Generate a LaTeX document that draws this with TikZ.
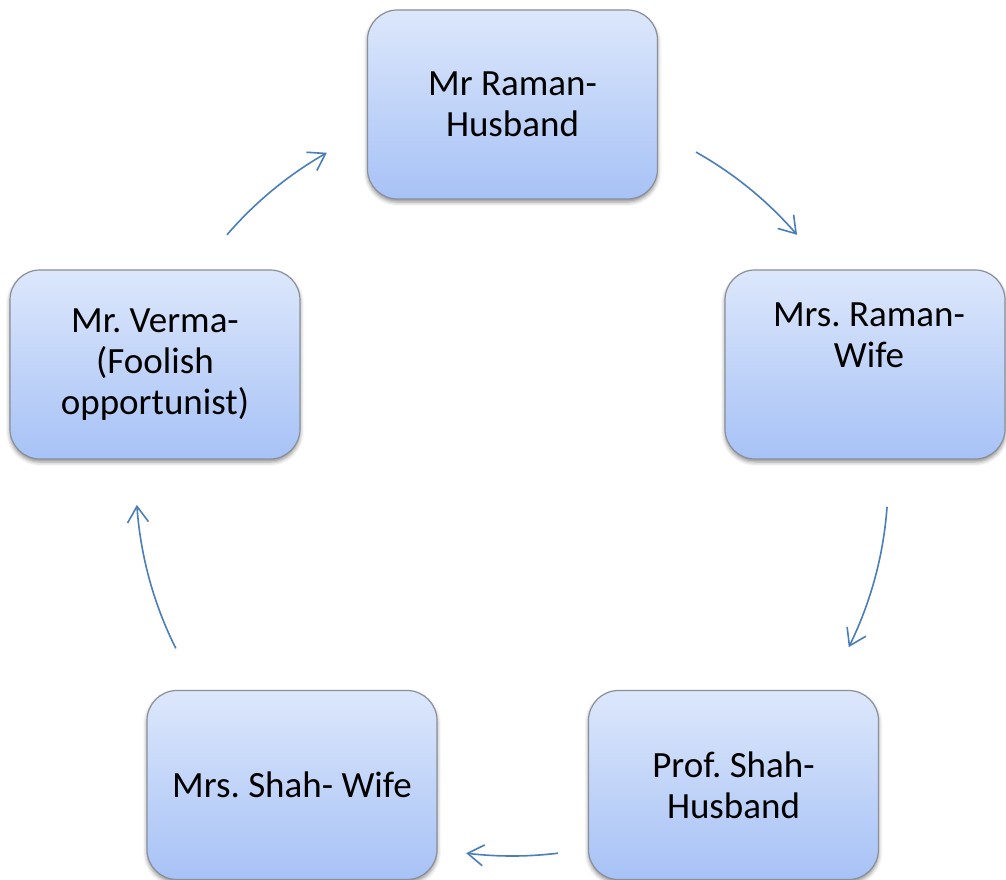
\documentclass[tikz,border=0pt]{standalone}
\usepackage{fontspec}
\setmainfont{Carlito}
\frenchspacing
\usetikzlibrary{arrows.meta,bending,shadows.blur}
\definecolor{boxtop}{HTML}{DCE7FB}
\definecolor{boxbottom}{HTML}{A7C2F6}
\definecolor{boxedge}{HTML}{8A8F99}
\definecolor{linkblue}{HTML}{4A7EBB}
\tikzset{
  rolebox/.style={draw=boxedge, line width=1.2pt, rounded corners=30pt,
    top color=boxtop, bottom color=boxbottom,
    minimum width=290pt, minimum height=189pt, inner sep=0pt,
    blur shadow={shadow xshift=0pt, shadow yshift=-3pt,
      shadow blur radius=4pt, shadow opacity=45}},
  roletext/.style={font=\fontsize{37}{41}\selectfont, align=center, inner sep=0pt},
  link/.style={draw=linkblue, line width=1.6pt,
    -{Straight Barb[length=16pt, width=21pt, flex]}}
}
\begin{document}
\begin{tikzpicture}[x=1pt, y=-1pt]
\useasboundingbox (0,0) rectangle (1006,880);

% the five characters
\node[rolebox, roletext] (raman) at (512.5,104.5) {Mr Raman-\\Husband};
\node[rolebox, minimum width=280pt] (wife) at (865,364.5) {};
\node[roletext] (wifetext) at (869,335) {Mrs. Raman-\\Wife};
\node[rolebox, roletext] (shah) at (733.5,785) {Prof. Shah-\\Husband};
\node[rolebox, roletext] (shahwife) at (292,785) {Mrs. Shah- Wife};
\node[rolebox, roletext] (verma) at (155,364.5) {Mr. Verma-\\(Foolish\\opportunist)};

% arcs of one circle linking them clockwise
\coordinate (ctr) at (512,480);
\path (ctr) ++(-60.7:376) coordinate (l1);
\path (ctr) ++(4.1:376) coordinate (l2);
\path (ctr) ++(83.0:376) coordinate (l3);
\path (ctr) ++(153.4:376) coordinate (l4);
\path (ctr) ++(-139.3:376) coordinate (l5);

\draw[link] (l1) arc[start angle=-60.7, end angle=-40.7, radius=376];
\draw[link] (l2) arc[start angle=4.1, end angle=26.4, radius=376];
\draw[link] (l3) arc[start angle=83.0, end angle=97.0, radius=376];
\draw[link] (l4) arc[start angle=153.4, end angle=176.2, radius=376];
\draw[link] (l5) arc[start angle=-139.3, end angle=-119.5, radius=376];
\end{tikzpicture}
\end{document}
